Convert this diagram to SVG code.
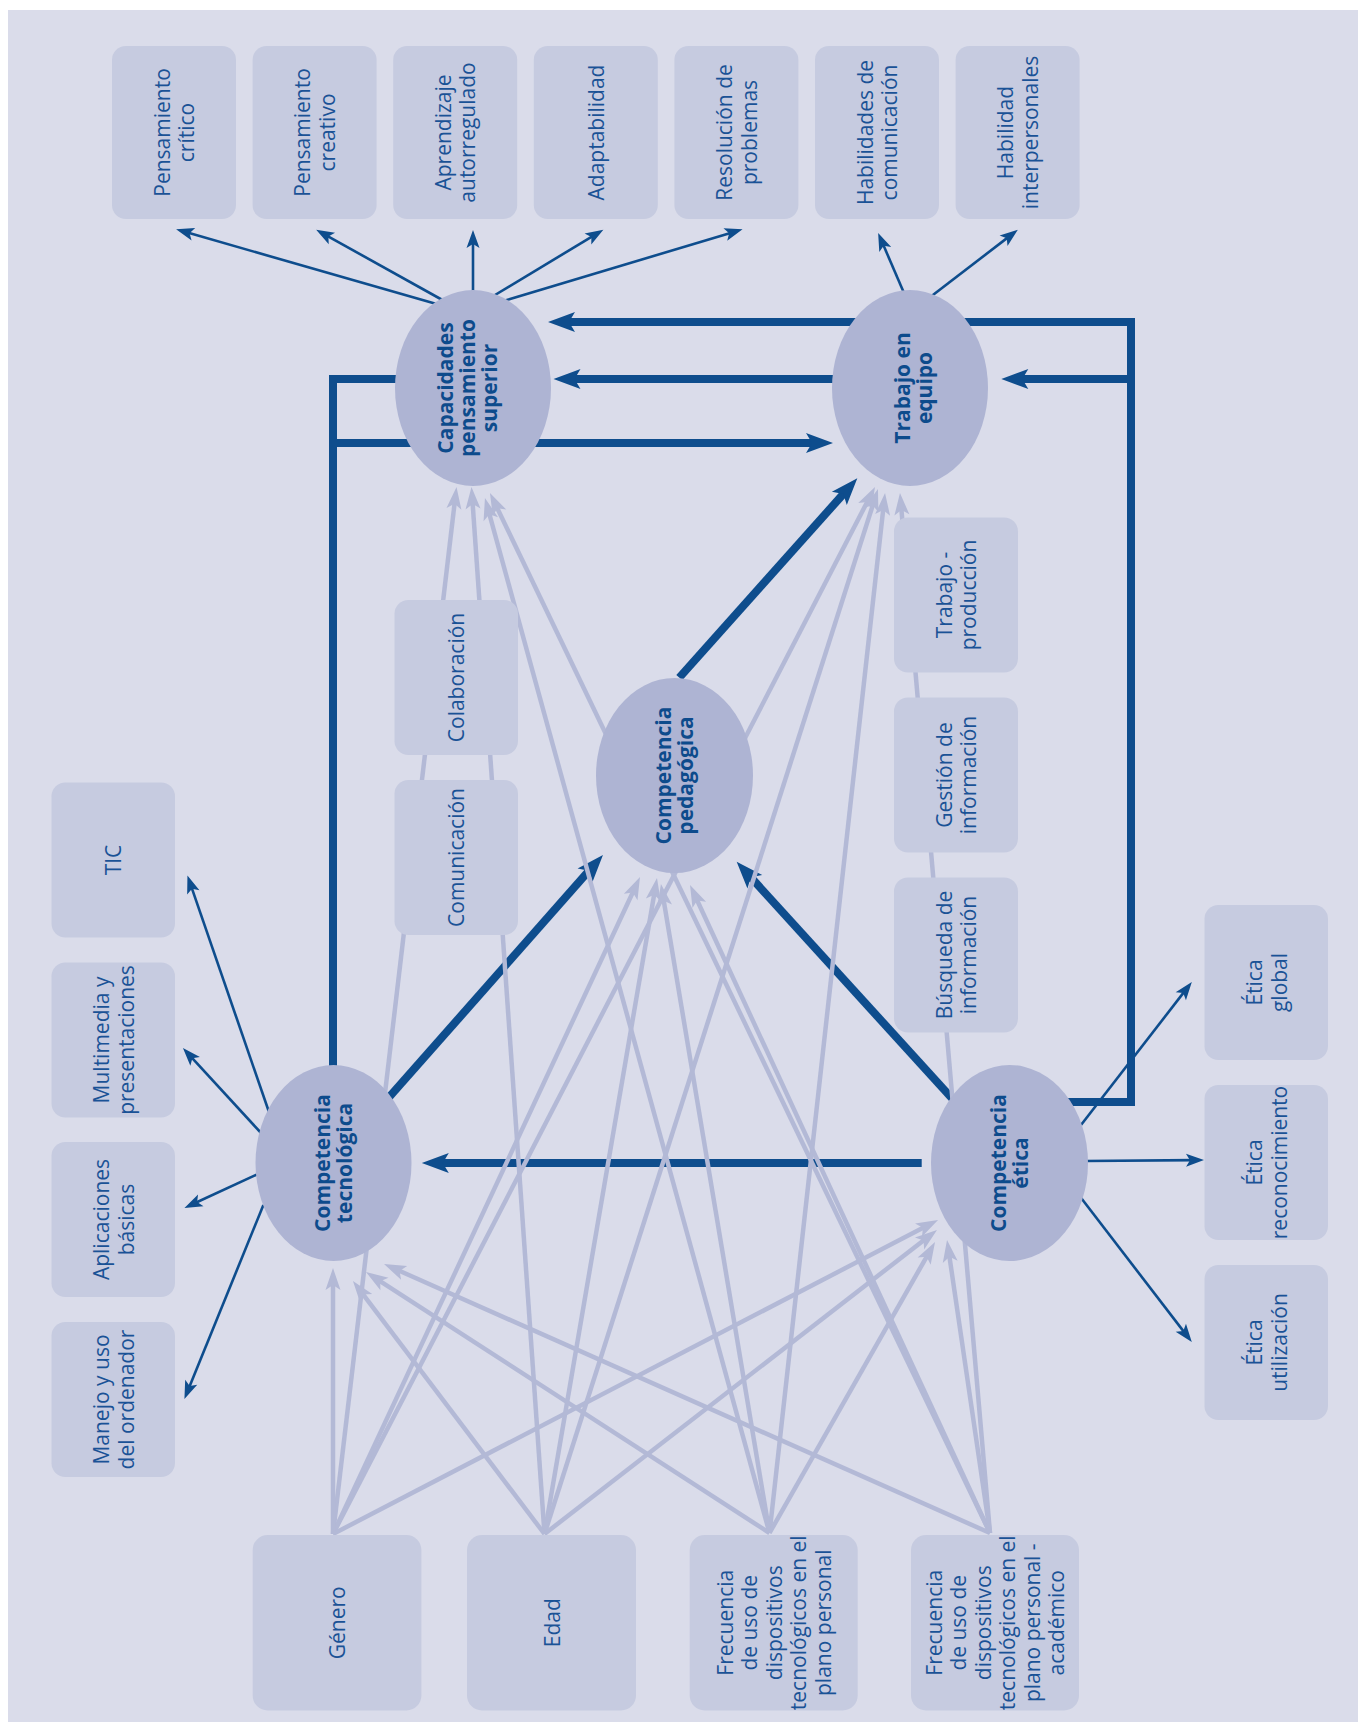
<svg xmlns="http://www.w3.org/2000/svg" width="1358" height="1722" viewBox="0 0 1358 1722">
  <style>
    .panel{fill:#dadcea}
    .box{fill:#c6cbe0}
    .ell{fill:#aeb4d3}
    .lbl{font-family:"Open Sans","Noto Sans","DejaVu Sans",sans-serif;font-size:21px;fill:#1a5296;text-anchor:middle}
    .lblb{font-family:"Open Sans","Noto Sans","DejaVu Sans",sans-serif;font-size:21px;font-weight:700;fill:#0d4b8c;text-anchor:middle}
    .thin{stroke:#0e4d8d;stroke-width:2.6;fill:none;marker-end:url(#ahThin)}
    .thick{stroke:#0e4d8d;stroke-width:8;fill:none;stroke-linejoin:miter}
    .arr{marker-end:url(#ahThick)}
    .light{stroke:#b3b9d6;stroke-width:4.5;fill:none;marker-end:url(#ahLight)}
  </style>
  <defs>
    <marker id="ahThick" markerUnits="userSpaceOnUse" markerWidth="27" markerHeight="20" refX="10" refY="10" orient="auto" overflow="visible">
      <path d="M0,0 L27,10 L0,20 L6,10 z" fill="#0e4d8d"/>
    </marker>
    <marker id="ahThin" markerUnits="userSpaceOnUse" markerWidth="18" markerHeight="13" refX="8" refY="6.5" orient="auto" overflow="visible">
      <path d="M0,0 L18,6.5 L0,13 L4,6.5 z" fill="#0e4d8d"/>
    </marker>
    <marker id="ahLight" markerUnits="userSpaceOnUse" markerWidth="22" markerHeight="15" refX="9" refY="7.5" orient="auto" overflow="visible">
      <path d="M0,0 L22,7.5 L0,15 L5,7.5 z" fill="#b3b9d6"/>
    </marker>
  </defs>

  <rect class="panel" x="8" y="10" width="1350" height="1712"/>

  <g id="connectors">
    <!-- structural paths between constructs -->
    <path class="thick arr" d="M1060,1102 H1131 V322 H565"/>
    <path class="thick arr" d="M1131,379 H1018.3"/>
    <path class="thick arr" d="M860,379 H570.5"/>
    <path class="thick" d="M400,379 H333 V1070"/>
    <path class="thick arr" d="M333,443 H816"/>
    <path class="thick arr" d="M921.7,1163 H438.8"/>
    <path class="thick arr" d="M388.7,1097.7 L591.7,867.7"/>
    <path class="thick arr" d="M679.3,677.7 L846,491"/>
    <path class="thick arr" d="M953.4,1099.9 L748.1,874.3"/>

    <!-- Género -->
    <path class="light" d="M333,1534 L455,499.9"/>
    <path class="light" d="M333,1534 L869,498.5"/>
    <path class="light" d="M333,1534 L634.5,888.8"/>
    <path class="light" d="M333,1534 L333,1281"/>
    <path class="light" d="M333,1534 L926.5,1226"/>
    <!-- Edad -->
    <path class="light" d="M544.5,1534 L472.4,500"/>
    <path class="light" d="M544.5,1534 L874,501.4"/>
    <path class="light" d="M544.5,1534 L654.8,890.8"/>
    <path class="light" d="M544.5,1534 L360.8,1291.4"/>
    <path class="light" d="M544.5,1534 L926.7,1238"/>
    <!-- Frecuencia (personal) -->
    <path class="light" d="M769.5,1533 L488.4,510.5"/>
    <path class="light" d="M769.5,1533 L883.6,505.9"/>
    <path class="light" d="M769.5,1533 L663.1,896.8"/>
    <path class="light" d="M769.5,1533 L376.9,1279.1"/>
    <path class="light" d="M769.5,1533 L928.6,1253.3"/>
    <!-- Frecuencia (personal - académico) -->
    <path class="light" d="M990,1533 L495.6,504.7"/>
    <path class="light" d="M990,1533 L901.1,506"/>
    <path class="light" d="M990,1533 L695.5,896.8"/>
    <path class="light" d="M990,1533 L395.9,1269.3"/>
    <path class="light" d="M990,1533 L948.9,1252.9"/>

    <!-- indicators -->
    <path class="thin" d="M440,305 L185.7,232.1"/>
    <path class="thin" d="M446,302 L324.9,234.6"/>
    <path class="thin" d="M473,295 L473,240"/>
    <path class="thin" d="M490,298 L594.8,234.9"/>
    <path class="thin" d="M500,302 L733,232.2"/>
    <path class="thin" d="M904,293 L882.1,242.1"/>
    <path class="thin" d="M929,298 L1009.9,235.9"/>
    <path class="thin" d="M270,1115 L190.7,884.9"/>
    <path class="thin" d="M262,1134 L189.7,1055.4"/>
    <path class="thin" d="M258,1174 L193.5,1203.8"/>
    <path class="thin" d="M263.4,1205 L188.2,1389.7"/>
    <path class="thin" d="M1081,1125 L1185.7,989.9"/>
    <path class="thin" d="M1085,1161 L1194,1160.1"/>
    <path class="thin" d="M1080.2,1196.8 L1185.7,1334.1"/>
  </g>

  <!-- top row -->
  <g id="pensamiento-critico">
    <rect class="box" x="112" y="46" width="124" height="173" rx="14"/>
    <text class="lbl" transform="translate(174,132.5) rotate(-90)"><tspan x="0" y="-4.25">Pensamiento</tspan><tspan x="0" y="20.25">crítico</tspan></text>
  </g>
  <g id="pensamiento-creativo">
    <rect class="box" x="252.6" y="46" width="124" height="173" rx="14"/>
    <text class="lbl" transform="translate(314.6,132.5) rotate(-90)"><tspan x="0" y="-4.25">Pensamiento</tspan><tspan x="0" y="20.25">creativo</tspan></text>
  </g>
  <g id="aprendizaje">
    <rect class="box" x="393.2" y="46" width="124" height="173" rx="14"/>
    <text class="lbl" transform="translate(455.2,132.5) rotate(-90)"><tspan x="0" y="-4.25">Aprendizaje</tspan><tspan x="0" y="20.25">autorregulado</tspan></text>
  </g>
  <g id="adaptabilidad">
    <rect class="box" x="533.8" y="46" width="124" height="173" rx="14"/>
    <text class="lbl" transform="translate(595.8,132.5) rotate(-90)"><tspan x="0" y="8">Adaptabilidad</tspan></text>
  </g>
  <g id="resolucion">
    <rect class="box" x="674.4" y="46" width="124" height="173" rx="14"/>
    <text class="lbl" transform="translate(736.4,132.5) rotate(-90)"><tspan x="0" y="-4.25">Resolución de</tspan><tspan x="0" y="20.25">problemas</tspan></text>
  </g>
  <g id="hab-comunicacion">
    <rect class="box" x="815" y="46" width="124" height="173" rx="14"/>
    <text class="lbl" transform="translate(877,132.5) rotate(-90)"><tspan x="0" y="-4.25">Habilidades de</tspan><tspan x="0" y="20.25">comunicación</tspan></text>
  </g>
  <g id="hab-interpersonales">
    <rect class="box" x="955.6" y="46" width="124" height="173" rx="14"/>
    <text class="lbl" transform="translate(1017.6,132.5) rotate(-90)"><tspan x="0" y="-4.25">Habilidad</tspan><tspan x="0" y="20.25">interpersonales</tspan></text>
  </g>

  <!-- middle indicators -->
  <g id="colaboracion">
    <rect class="box" x="394.5" y="600" width="123.5" height="155" rx="14"/>
    <text class="lbl" transform="translate(456.25,677.5) rotate(-90)"><tspan x="0" y="8">Colaboración</tspan></text>
  </g>
  <g id="comunicacion">
    <rect class="box" x="394.5" y="780" width="123.5" height="155" rx="14"/>
    <text class="lbl" transform="translate(456.25,857.5) rotate(-90)"><tspan x="0" y="8">Comunicación</tspan></text>
  </g>
  <g id="trabajo-produccion">
    <rect class="box" x="894" y="517.5" width="124" height="155" rx="14"/>
    <text class="lbl" transform="translate(956,595) rotate(-90)"><tspan x="0" y="-4.25">Trabajo -</tspan><tspan x="0" y="20.25">producción</tspan></text>
  </g>
  <g id="gestion-informacion">
    <rect class="box" x="894" y="697.5" width="124" height="155" rx="14"/>
    <text class="lbl" transform="translate(956,775) rotate(-90)"><tspan x="0" y="-4.25">Gestión de</tspan><tspan x="0" y="20.25">información</tspan></text>
  </g>
  <g id="busqueda-informacion">
    <rect class="box" x="894" y="877.5" width="124" height="155" rx="14"/>
    <text class="lbl" transform="translate(956,955) rotate(-90)"><tspan x="0" y="-4.25">Búsqueda de</tspan><tspan x="0" y="20.25">información</tspan></text>
  </g>

  <!-- left column -->
  <g id="tic">
    <rect class="box" x="51.5" y="782.5" width="123.5" height="155" rx="14"/>
    <text class="lbl" transform="translate(113.25,860) rotate(-90)"><tspan x="0" y="8">TIC</tspan></text>
  </g>
  <g id="multimedia">
    <rect class="box" x="51.5" y="962.5" width="123.5" height="155" rx="14"/>
    <text class="lbl" transform="translate(113.25,1040) rotate(-90)"><tspan x="0" y="-4.25">Multimedia y</tspan><tspan x="0" y="20.25">presentaciones</tspan></text>
  </g>
  <g id="aplicaciones">
    <rect class="box" x="51.5" y="1142" width="123.5" height="155" rx="14"/>
    <text class="lbl" transform="translate(113.25,1219.5) rotate(-90)"><tspan x="0" y="-4.25">Aplicaciones</tspan><tspan x="0" y="20.25">básicas</tspan></text>
  </g>
  <g id="manejo">
    <rect class="box" x="51.5" y="1322" width="123.5" height="155" rx="14"/>
    <text class="lbl" transform="translate(113.25,1399.5) rotate(-90)"><tspan x="0" y="-4.25">Manejo y uso</tspan><tspan x="0" y="20.25">del ordenador</tspan></text>
  </g>

  <!-- right column -->
  <g id="etica-global">
    <rect class="box" x="1204.5" y="905" width="123.5" height="155" rx="14"/>
    <text class="lbl" transform="translate(1266.25,982.5) rotate(-90)"><tspan x="0" y="-4.25">Ética</tspan><tspan x="0" y="20.25">global</tspan></text>
  </g>
  <g id="etica-reconocimiento">
    <rect class="box" x="1204.5" y="1085" width="123.5" height="155" rx="14"/>
    <text class="lbl" transform="translate(1266.25,1162.5) rotate(-90)"><tspan x="0" y="-4.25">Ética</tspan><tspan x="0" y="20.25">reconocimiento</tspan></text>
  </g>
  <g id="etica-utilizacion">
    <rect class="box" x="1204.5" y="1265" width="123.5" height="155" rx="14"/>
    <text class="lbl" transform="translate(1266.25,1342.5) rotate(-90)"><tspan x="0" y="-4.25">Ética</tspan><tspan x="0" y="20.25">utilización</tspan></text>
  </g>

  <!-- bottom row -->
  <g id="genero">
    <rect class="box" x="252.7" y="1535" width="168.7" height="175.5" rx="15"/>
    <text class="lbl" transform="translate(337,1622.75) rotate(-90)"><tspan x="0" y="8">Género</tspan></text>
  </g>
  <g id="edad">
    <rect class="box" x="467" y="1535" width="169" height="175.5" rx="15"/>
    <text class="lbl" transform="translate(551.5,1622.75) rotate(-90)"><tspan x="0" y="8">Edad</tspan></text>
  </g>
  <g id="frecuencia-personal">
    <rect class="box" x="689.7" y="1535" width="168" height="175.5" rx="15"/>
    <text class="lbl" transform="translate(773.7,1622.75) rotate(-90)"><tspan x="0" y="-41">Frecuencia</tspan><tspan x="0" y="-16.5">de uso de</tspan><tspan x="0" y="8">dispositivos</tspan><tspan x="0" y="32.5">tecnológicos en el</tspan><tspan x="0" y="57">plano personal</tspan></text>
  </g>
  <g id="frecuencia-academico">
    <rect class="box" x="911" y="1535" width="168" height="175.5" rx="15"/>
    <text class="lbl" transform="translate(995,1622.75) rotate(-90)"><tspan x="0" y="-53.25">Frecuencia</tspan><tspan x="0" y="-28.75">de uso de</tspan><tspan x="0" y="-4.25">dispositivos</tspan><tspan x="0" y="20.25">tecnológicos en el</tspan><tspan x="0" y="44.75">plano personal -</tspan><tspan x="0" y="69.25">académico</tspan></text>
  </g>

  <!-- latent constructs -->
  <g id="capacidades">
    <ellipse class="ell" cx="473" cy="388" rx="78" ry="98"/>
    <text class="lblb" transform="translate(473,388) rotate(-90)"><tspan x="0" y="-20">Capacidades</tspan><tspan x="0" y="2">pensamiento</tspan><tspan x="0" y="24">superior</tspan></text>
  </g>
  <g id="trabajo-equipo">
    <ellipse class="ell" cx="910" cy="388" rx="78" ry="98"/>
    <text class="lblb" transform="translate(910,388) rotate(-90)"><tspan x="0" y="0">Trabajo en</tspan><tspan x="0" y="22">equipo</tspan></text>
  </g>
  <g id="competencia-pedagogica">
    <ellipse class="ell" cx="674.5" cy="775.5" rx="78.5" ry="97.5"/>
    <text class="lblb" transform="translate(674.5,775.5) rotate(-90)"><tspan x="0" y="-4">Competencia</tspan><tspan x="0" y="18">pedagógica</tspan></text>
  </g>
  <g id="competencia-tecnologica">
    <ellipse class="ell" cx="333.5" cy="1163" rx="78" ry="98"/>
    <text class="lblb" transform="translate(333.5,1163) rotate(-90)"><tspan x="0" y="-4">Competencia</tspan><tspan x="0" y="18">tecnológica</tspan></text>
  </g>
  <g id="competencia-etica">
    <ellipse class="ell" cx="1009.5" cy="1163" rx="78.5" ry="98"/>
    <text class="lblb" transform="translate(1009.5,1163) rotate(-90)"><tspan x="0" y="-4">Competencia</tspan><tspan x="0" y="18">ética</tspan></text>
  </g>
</svg>
